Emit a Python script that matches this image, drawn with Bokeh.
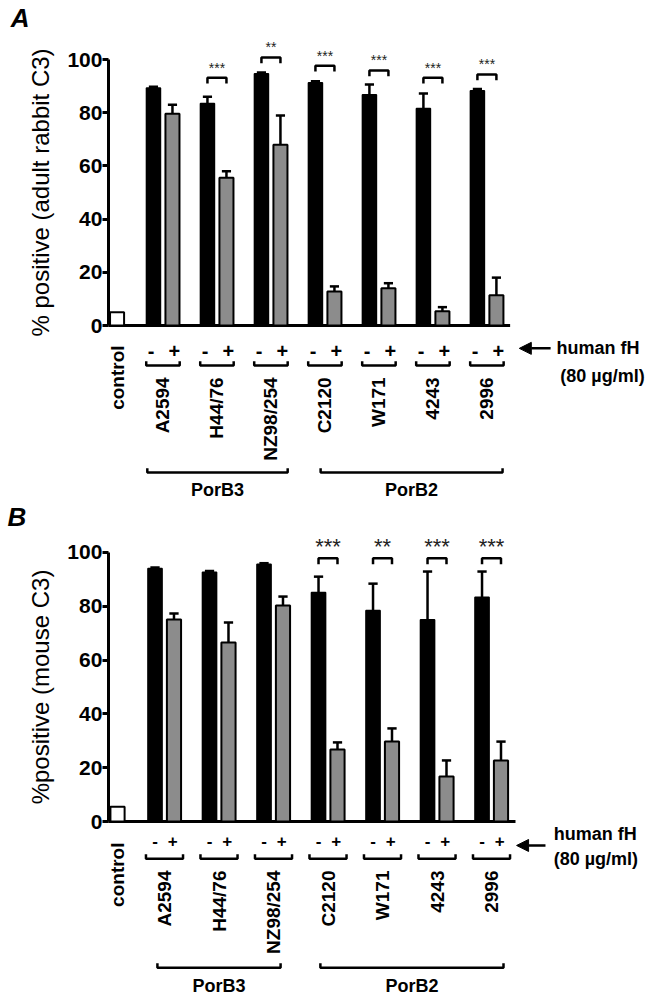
import numpy as np
from bokeh.plotting import figure
from bokeh.layouts import column
from bokeh.models import FixedTicker, LinearAxis, Arrow, NormalHead
from bokeh.core.properties import value
from bokeh.embed import file_html
from bokeh.resources import INLINE

# ---------------- data ----------------
strains = ["A2594", "H44/76", "NZ98/254", "C2120", "W171", "4243", "2996"]
porb_names = ["PorB3", "PorB2"]
y_ticks = [0, 20, 40, 60, 80, 100]

# Panel A: % positive (adult rabbit C3)
a_control = 5.0
a_minus = [89.3, 83.5, 94.7, 91.3, 86.8, 81.6, 88.3]
a_minus_err = [0.5, 2.5, 0.4, 0.5, 3.8, 5.6, 0.6]
a_plus = [79.6, 55.6, 68.0, 12.8, 14.0, 5.4, 11.4]
a_plus_err = [3.4, 2.4, 11.0, 1.9, 1.9, 1.5, 6.6]
a_sig = ["", "***", "**", "***", "***", "***", "***"]
a_sig_y = [0, 93.2, 100.8, 97.7, 95.9, 93.2, 94.4]

# Panel B: %positive (mouse C3)
b_control = 5.5
b_minus = [94.0, 92.6, 95.6, 85.1, 78.4, 75.0, 83.3]
b_minus_err = [0.4, 0.5, 0.4, 5.9, 10.0, 17.9, 9.6]
b_plus = [75.1, 66.5, 80.3, 26.8, 29.7, 16.7, 22.7]
b_plus_err = [2.2, 7.5, 3.3, 2.6, 4.9, 6.0, 7.0]
b_sig = ["", "", "", "***", "**", "***", "***"]
b_sig_y = [0, 0, 0, 97.8, 97.8, 97.8, 97.8]

FONT = value("Liberation Sans")
GREY = "#8c8c8c"


def bold_text(p, **kw):
    kw.setdefault("text_font", FONT)
    kw.setdefault("text_font_style", "bold")
    kw.setdefault("text_color", "black")
    return p.text(**kw)


def make_panel(letter, ylabel, control, minus, minus_err, plus, plus_err, sig, sig_y, c):
    p = figure(width=650, height=c["h"], x_range=c["xr"], y_range=c["yr"],
               output_backend="svg", toolbar_location=None,
               x_axis_location=None, y_axis_location=None, min_border=0)
    p.min_border_left = 0
    p.min_border_right = 0
    p.min_border_top = 0
    p.min_border_bottom = 0
    p.grid.visible = False
    p.outline_line_color = None
    p.background_fill_color = "white"

    ax = LinearAxis(fixed_location=c["axis_x"])
    ax.ticker = FixedTicker(ticks=y_ticks)
    ax.bounds = (0, 100)
    ax.axis_line_width = 3
    ax.axis_line_color = "black"
    ax.major_tick_line_width = 3
    ax.major_tick_line_color = "black"
    ax.major_tick_out = 6
    ax.major_tick_in = 0
    ax.minor_tick_out = 0
    ax.minor_tick_in = 0
    ax.major_label_text_font = "Liberation Sans"
    ax.major_label_text_font_size = "21px"
    ax.major_label_text_font_style = "bold"
    ax.major_label_text_color = "black"
    ax.major_label_standoff = 0
    ax.axis_label = ylabel
    ax.axis_label_text_font = "Liberation Sans"
    ax.axis_label_text_font_size = "24px"
    ax.axis_label_text_font_style = "normal"
    ax.axis_label_text_color = "black"
    ax.axis_label_standoff = 10
    p.add_layout(ax, "left")

    n = len(strains)
    xs = np.arange(1, n + 1, dtype=float)
    off = c["off"]
    bw = c["bw"]
    minus = np.array(minus)
    plus = np.array(plus)
    top_m = minus + np.array(minus_err)
    top_p = plus + np.array(plus_err)

    # baseline (x axis line)
    p.segment(x0=[c["axis_x"]], y0=[0], x1=[n + c["base_ext"]], y1=[0],
              line_width=3, line_color="black")

    # error bars (upper only)
    for xc, y0, y1 in ((xs - off, minus, top_m), (xs + off, plus, top_p)):
        p.segment(x0=xc, y0=y0, x1=xc, y1=y1, line_width=2.5, line_color="black")
        p.segment(x0=xc - c["cap"], y0=y1, x1=xc + c["cap"], y1=y1,
                  line_width=2.5, line_color="black")

    # bars
    p.vbar(x=[c["ctrl_x"]], top=[control], width=bw, bottom=0,
           fill_color="white", line_color="black", line_width=2)
    p.vbar(x=xs - off, top=minus, width=bw, bottom=0,
           fill_color="black", line_color="black", line_width=1.5)
    p.vbar(x=xs + off, top=plus, width=bw, bottom=0,
           fill_color=GREY, line_color="black", line_width=2)

    # significance brackets and stars
    bx, by, sx, sy, st = [], [], [], [], []
    for i in range(n):
        if sig[i]:
            y = sig_y[i]
            bx.append([xs[i] - off, xs[i] - off, xs[i] + off, xs[i] + off])
            by.append([y - c["sig_leg"], y, y, y - c["sig_leg"]])
            sx.append(xs[i])
            sy.append(y + c["star_dy"])
            st.append(sig[i])
    p.multi_line(xs=bx, ys=by, line_width=2.5, line_color="black")
    p.text(x=sx, y=sy, text=st, text_align="center", text_baseline="alphabetic",
           text_font=FONT, text_font_size=c["star_size"], text_color="#222222")

    # - / + labels
    bold_text(p, x=xs + c["pm_off"][0], y=[c["pm_y"]] * n, text=["-"] * n,
              text_align="center", text_baseline="middle", text_font_size=c["pm_size"])
    bold_text(p, x=xs + c["pm_off"][1], y=[c["pm_y"]] * n, text=["+"] * n,
              text_align="center", text_baseline="middle", text_font_size=c["pm_size"])

    # small brackets under each pair
    sbx = [[x - c["sb_half"], x - c["sb_half"], x + c["sb_half"], x + c["sb_half"]] for x in xs]
    sby = [[c["sb_y"] + c["sb_leg"], c["sb_y"], c["sb_y"], c["sb_y"] + c["sb_leg"]] for _ in xs]
    p.multi_line(xs=sbx, ys=sby, line_width=2.5, line_color="black")

    # strain names (rotated)
    bold_text(p, x=xs, y=[c["strain_y"]] * n, text=strains, angle=np.pi / 2,
              text_align="right", text_baseline="middle", text_font_size="19px")
    bold_text(p, x=[c["ctrl_x"]], y=[c["ctrl_lab_y"]], text=["control"], angle=np.pi / 2,
              text_align="right", text_baseline="middle", text_font_size="19px")

    # PorB group brackets
    gx, gy, lx = [], [], []
    for (s, e) in c["porb_span"]:
        gx.append([s, s, e, e])
        gy.append([c["pb_y"] + c["pb_leg"], c["pb_y"], c["pb_y"], c["pb_y"] + c["pb_leg"]])
        lx.append((s + e) / 2)
    p.multi_line(xs=gx, ys=gy, line_width=2.5, line_color="black")
    bold_text(p, x=lx, y=[c["pb_lab_y"]] * len(lx), text=porb_names, text_align="center",
              text_baseline="middle", text_font_size="18px")

    # human fH arrow + text
    p.add_layout(Arrow(end=NormalHead(size=12, fill_color="black", line_color="black"),
                       x_start=c["arr"][1], y_start=c["arr_y"],
                       x_end=c["arr"][0], y_end=c["arr_y"],
                       line_width=2.5, line_color="black"))
    bold_text(p, x=[c["fh_x"][0]], y=[c["fh_y"][0]], text=["human fH"], text_align="left",
              text_baseline="middle", text_font_size="18px")
    bold_text(p, x=[c["fh_x"][1]], y=[c["fh_y"][1]], text=["(80 \u00b5g/ml)"],
              text_align="left", text_baseline="middle", text_font_size="18px")

    # panel letter
    bold_text(p, x=[c["letter"][0]], y=[c["letter"][1]], text=[letter],
              text_font_size="26px", text_font_style="bold italic",
              text_baseline=c["letter_base"], text_align="left")
    return p


cfg_a = dict(h=500, xr=(-2.009, 10.03), yr=(-65.8, 122.2), axis_x=-0.01,
             off=0.176, bw=0.26, cap=0.085,
             ctrl_x=0.15, base_ext=0.43, sig_leg=2.2, star_dy=3.8, star_size="14px",
             pm_off=(-0.22, 0.21), pm_y=-9.4, pm_size="20px",
             sb_half=0.31, sb_y=-15.0, sb_leg=1.6,
             strain_y=-19.5, ctrl_lab_y=-7.5,
             porb_span=[(0.71, 3.31), (3.92, 7.29)], pb_y=-55.3, pb_leg=1.6, pb_lab_y=-62.0,
             arr=(7.6, 8.18), arr_y=-8.6, fh_x=(8.29, 8.36), fh_y=(-8.3, -18.8),
             letter=(-1.82, 115.8), letter_base="middle")

cfg_b = dict(h=497, xr=(-2.009, 9.917), yr=(-65.4, 119.3), axis_x=-0.03,
             off=0.174, bw=0.26, cap=0.085,
             ctrl_x=0.138, base_ext=0.44, sig_leg=2.2, star_dy=4.3, star_size="22px",
             pm_off=(-0.175, 0.15), pm_y=-7.1, pm_size="17px",
             sb_half=0.34, sb_y=-13.8, sb_leg=1.6,
             strain_y=-18.2, ctrl_lab_y=-7.8,
             porb_span=[(0.87, 3.13), (3.86, 7.22)], pb_y=-54.3, pb_leg=1.6, pb_lab_y=-61.0,
             arr=(7.46, 7.99), arr_y=-8.9, fh_x=(8.14, 8.14), fh_y=(-4.5, -13.8),
             letter=(-1.88, 118.9), letter_base="top")

pA = make_panel("A", "% positive (adult rabbit C3)", a_control, a_minus, a_minus_err,
                a_plus, a_plus_err, a_sig, a_sig_y, cfg_a)
pB = make_panel("B", "%positive (mouse C3)", b_control, b_minus, b_minus_err,
                b_plus, b_plus_err, b_sig, b_sig_y, cfg_b)

layout = column(pA, pB, spacing=0)
open("out.html", "w").write(file_html(layout, INLINE))
